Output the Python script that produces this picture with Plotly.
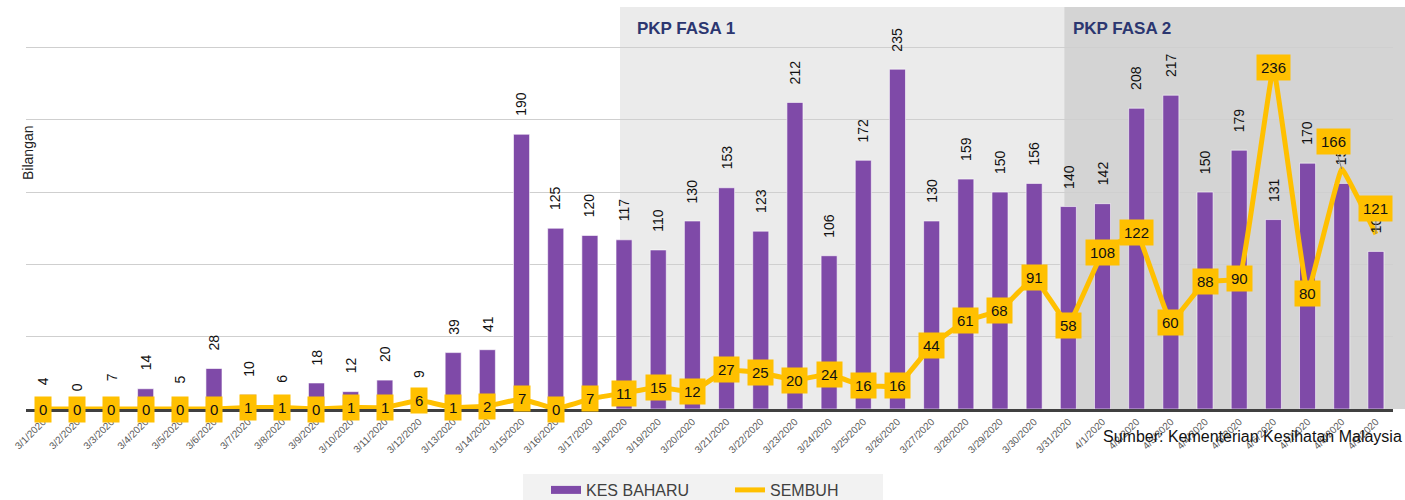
import plotly.graph_objects as go

dates = ["3/1/2020", "3/2/2020", "3/3/2020", "3/4/2020", "3/5/2020", "3/6/2020", "3/7/2020",
         "3/8/2020", "3/9/2020", "3/10/2020", "3/11/2020", "3/12/2020", "3/13/2020", "3/14/2020",
         "3/15/2020", "3/16/2020", "3/17/2020", "3/18/2020", "3/19/2020", "3/20/2020", "3/21/2020",
         "3/22/2020", "3/23/2020", "3/24/2020", "3/25/2020", "3/26/2020", "3/27/2020", "3/28/2020",
         "3/29/2020", "3/30/2020", "3/31/2020", "4/1/2020", "4/2/2020", "4/3/2020", "4/4/2020",
         "4/5/2020", "4/6/2020", "4/7/2020", "4/8/2020", "4/9/2020"]
kes_baharu = [4, 0, 7, 14, 5, 28, 10, 6, 18, 12, 20, 9, 39, 41, 190, 125, 120, 117, 110, 130,
              153, 123, 212, 106, 172, 235, 130, 159, 150, 156, 140, 142, 208, 217, 150, 179,
              131, 170, 156, 109]
sembuh = [0, 0, 0, 0, 0, 0, 1, 1, 0, 1, 1, 6, 1, 2, 7, 0, 7, 11, 15, 12, 27, 25, 20, 24, 16, 16,
          44, 61, 68, 91, 58, 108, 122, 60, 88, 90, 236, 80, 166, 121]

FONT = "Liberation Sans, Arial, sans-serif"
NARROW = "Liberation Sans Narrow, Arial Narrow, Liberation Sans, sans-serif"
PURPLE = "#7f4aa8"
YELLOW = "#ffc000"

fig = go.Figure()
fig.add_trace(go.Bar(
    x=dates, y=kes_baharu, name="KES BAHARU", showlegend=False,
    marker=dict(color=PURPLE, line=dict(color="rgba(255,255,255,0.6)", width=1)),
    width=0.47,
))
fig.add_trace(go.Scatter(
    x=dates, y=sembuh, name="SEMBUH", mode="lines", showlegend=False,
    line=dict(color=YELLOW, width=5, shape="spline", smoothing=0.2),
    cliponaxis=False,
))
# legend entries (wide swatches as in the reference)
fig.add_trace(go.Scatter(x=[None], y=[None], name="KES BAHARU", mode="lines",
                         line=dict(color=PURPLE, width=8)))
fig.add_trace(go.Scatter(x=[None], y=[None], name="SEMBUH", mode="lines",
                         line=dict(color=YELLOW, width=5)))

n = len(dates)
annotations = []
# bar value labels (rotated), placed above each bar
for d, v in zip(dates, kes_baharu):
    annotations.append(dict(x=d, y=v, xref="x", yref="y", text=str(v), showarrow=False,
                            textangle=-90, yanchor="bottom", xanchor="center", yshift=16,
                            font=dict(family=FONT, size=14, color="#111111")))
# SEMBUH value boxes
for i, (d, v) in enumerate(zip(dates, sembuh)):
    a = dict(x=d, y=v, xref="x", yref="y", text=str(v), showarrow=False,
             font=dict(family=FONT, size=15, color="#111111"),
             bgcolor=YELLOW, borderpad=4)
    if v == 166 or (i == n - 1):
        a.update(showarrow=True, ax=-8 if v == 166 else 0, ay=-27 if v == 166 else -26,
                 arrowcolor="#808080", arrowwidth=1, arrowhead=0, standoff=0)
    annotations.append(a)

# plot area: x 26..1393 px, y 7..409 px
H = 402.0
W = 1367.0

def cat_paper(pos):
    return (pos + 0.5) / n

annotations += [
    dict(x=cat_paper(16.88), y=(409 - 28) / H, xref="paper", yref="paper", yanchor="middle",
         xanchor="left", showarrow=False, text="<b>PKP FASA 1</b>", xshift=15,
         font=dict(family=FONT, size=17, color="#2b3670")),
    dict(x=cat_paper(29.88), y=(409 - 28) / H, xref="paper", yref="paper", yanchor="middle",
         xanchor="left", showarrow=False, text="<b>PKP FASA 2</b>", xshift=7,
         font=dict(family=FONT, size=17, color="#2b3670")),
    dict(x=(28 - 26) / W, y=(409 - 153) / H, xref="paper", yref="paper", showarrow=False,
         text="Bilangan", textangle=-90, xanchor="center", yanchor="middle",
         font=dict(family=FONT, size=14, color="#222222")),
    dict(x=(1404 - 26) / W, y=(409 - 437) / H, xref="paper", yref="paper", showarrow=False,
         text="Sumber: Kementerian Kesihatan Malaysia", xanchor="right", yanchor="middle",
         font=dict(family=FONT, size=16, color="#111111")),
]

shapes = [
    dict(type="rect", xref="paper", yref="paper", x0=cat_paper(16.88), x1=cat_paper(29.88),
         y0=0, y1=1, fillcolor="#ebebeb", line=dict(width=0), layer="below"),
    dict(type="rect", xref="paper", yref="paper", x0=cat_paper(29.88), x1=(1405 - 26) / W,
         y0=0, y1=1, fillcolor="#d4d4d4", line=dict(width=0), layer="below"),
    # legend background panel
    dict(type="rect", xref="paper", yref="paper", x0=(523 - 26) / W, x1=(883 - 26) / W,
         y0=(409 - 500) / H, y1=(409 - 474) / H, fillcolor="#f2f2f2",
         line=dict(width=0), layer="below"),
]

fig.update_layout(
    width=1405, height=500,
    margin=dict(l=26, r=12, t=7, b=91, autoexpand=False),
    paper_bgcolor="white", plot_bgcolor="white",
    font=dict(family=FONT, color="#404040"),
    showlegend=True,
    legend=dict(orientation="h", x=(546 - 26) / W, xanchor="left", y=(409 - 490) / H,
                yanchor="middle", bgcolor="rgba(0,0,0,0)",
                font=dict(family=NARROW, size=16, color="#404040"),
                itemwidth=30, entrywidth=139, traceorder="normal"),
    annotations=annotations,
    shapes=shapes,
    xaxis=dict(type="category", tickangle=-45, tickfont=dict(family=FONT, size=10, color="#595959"),
               showline=True, linecolor="#404040", linewidth=3, showgrid=False, ticks="",
               range=[-0.5, n - 0.5], automargin=False),
    yaxis=dict(range=[0, 278], dtick=50, showticklabels=False, showgrid=True,
               gridcolor="#cfcfcf", gridwidth=1, zeroline=False, showline=False,
               automargin=False),
)

fig.write_html("out.html", config={"displayModeBar": False},
               post_script="document.body.style.margin='0';document.body.style.overflow='hidden';")
